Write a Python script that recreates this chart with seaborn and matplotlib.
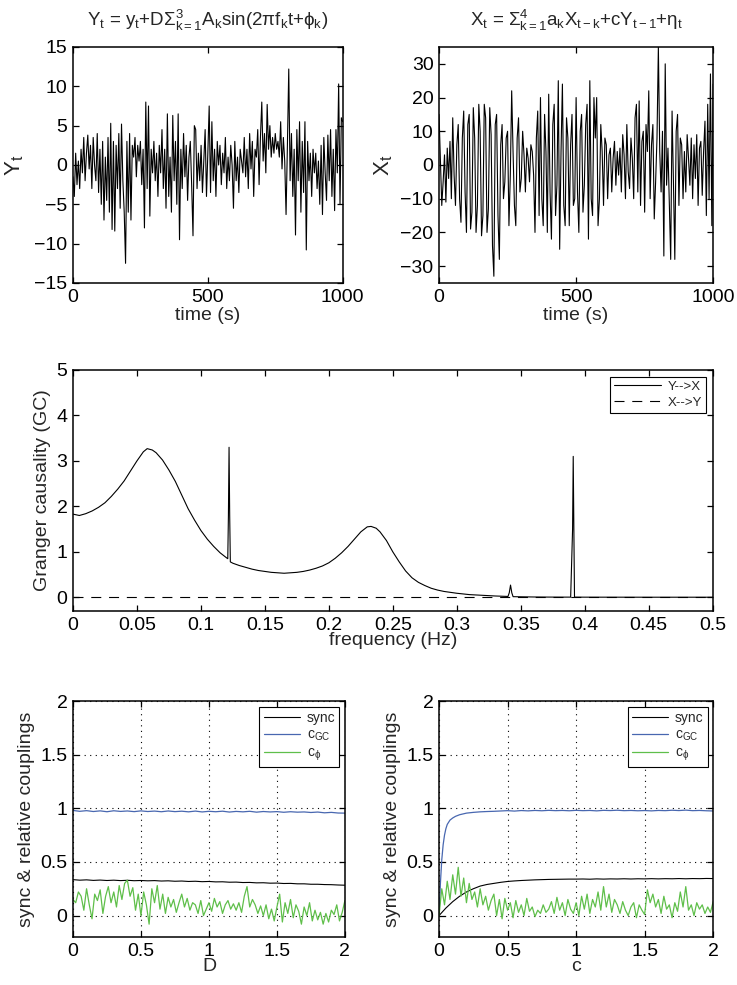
import numpy as np
import pandas as pd
import matplotlib
matplotlib.use("Agg")
import matplotlib.pyplot as plt
import seaborn as sns

# ====================================
# DADOS
# ====================================

# tempo (s), amostrado a cada 5 s
tempo = np.arange(0, 1001, 5)

serie_y = [
    -1.5, -4.0, 1.5, -2.5, 0.5, -3.0, 2.0, -1.0, 3.5, -2.0, 1.5, 3.8, -0.5, 2.5, -3.0, 3.5, 0.0, -2.0, 4.0, -3.5,
    2.0, -5.0, 3.0, -7.0, 1.0, -4.5, 3.5, -6.0, 5.3, -8.2, 3.0, -8.4, 2.5, -3.0, 4.0, -5.5, 5.2, -2.0, -6.0, -12.5,
    3.0, -6.0, 4.0, -7.0, 2.5, 1.0, 3.5, -1.5, 2.5, 0.5, 3.0, -2.5, 2.0, -8.0, 8.0, -3.0, 7.5, -6.5, 2.0, -1.0,
    3.0, -2.0, 1.5, -4.0, 2.5, -1.0, 4.5, -3.0, 2.0, -5.5, 6.5, -4.0, 1.0, -6.0, 6.3, -2.0, 3.0, -5.0, 6.5, -9.5,
    2.0, -3.0, 4.0, -1.5, 2.5, -4.5, 1.0, 3.0, -2.5, -9.0, 5.0, 4.5, -3.0, 1.5, -2.0, 2.5, -3.5, 0.5, 4.5, -4.0,
    1.5, 7.5, -3.5, 5.5, -2.0, 2.0, -4.0, 3.0, 0.0, 2.5, -2.5, 1.5, -1.0, 3.5, -3.0, 1.0, -2.0, 2.5, 0.0, -5.5,
    3.0, -2.0, 1.0, -3.5, 2.0, 0.5, -1.0, 3.5, -1.5, 2.0, -3.0, 4.0, -0.5, 3.0, -4.0, 2.0, 1.0, 4.5, -2.5, 3.5,
    8.0, 0.5, 4.0, -1.0, 7.7, 2.0, 5.0, 1.0, 3.5, 1.5, 4.0, 2.0, 3.0, 1.0, 5.5, -0.5, 3.5, 0.5, -6.3, 2.5,
    12.2, -2.0, 4.0, -4.0, 2.0, -8.9, 4.5, -2.0, 5.5, -6.0, 3.0, -3.5, 5.5, -10.8, 3.0, -2.0, 1.5, -4.0, 2.0, -1.0,
    1.5, -3.0, 0.5, -5.0, 2.5, -6.3, 3.5, -1.0, -4.5, 3.8, -2.0, 4.5, -4.0, 2.0, -5.8, 4.5, -1.0, 10.3, -5.0, 6.0,
    5.5,
]

serie_x = [
    15, 2, -12, -5, 3, -11, 5, -4, 7, -10, 14, -3, -12, 6, 12, -10, -17, 8, 16, -8,
    -20, 12, 15, -19, -14, 17, 8, -20, -12, 18, 10, -21, -15, 18, 14, -20, -13, 17, 9, -24,
    -33, 12, 15, -15, -28, 6, 12, -10, -5, 8, 10, -18, -3, 22, 4, -12, -18, 8, 14, -8,
    -4, 10, 3, -8, 5, 2, -5, 6, 4, -3, -20, 8, 16, -15, 20, -10, -18, 15, 4, -20,
    21, -8, -22, 12, 18, -15, -6, 25, -25, 4, 24, -12, -18, 14, 8, -18, 6, 15, -12, -10,
    20, -8, -20, 10, 15, -14, -6, 12, 18, -22, 25, -10, -15, 20, 8, 20, -18, -10, 12, 4,
    -12, 8, 6, -10, 3, 5, -8, 2, 7, -6, 4, -3, 5, -8, 9, 3, -10, 12, -2, -7,
    8, 2, -10, 14, 18, -8, 19, -12, 7, 10, -14, 12, 4, 22, -10, 6, 12, -16, -5, 8,
    35, 4, -8, 10, -27, 30, -6, 5, -12, -28, 16, -5, -28, 10, 15, -12, 8, 6, -10, 4,
    -8, 9, 2, -6, 8, -10, 6, -4, 9, -12, 5, 7, -9, 4, 13, -15, 18, -10, 27, -18, 24,
]

freq = [
    0, 0.005, 0.01, 0.015, 0.02, 0.025, 0.03, 0.035, 0.04, 0.045, 0.05, 0.055, 0.058,
    0.062, 0.065, 0.07, 0.075, 0.08, 0.085, 0.09, 0.095, 0.1, 0.105, 0.11, 0.115, 0.12,
    0.121, 0.1215, 0.122, 0.1225, 0.123, 0.125, 0.13, 0.135, 0.14, 0.145, 0.15, 0.155,
    0.16, 0.165, 0.17, 0.175, 0.18, 0.185, 0.19, 0.195, 0.2, 0.205, 0.21, 0.215, 0.22,
    0.225, 0.23, 0.233, 0.237, 0.24, 0.245, 0.25, 0.255, 0.26, 0.265, 0.27, 0.275, 0.28,
    0.285, 0.29, 0.3, 0.31, 0.32, 0.33, 0.34, 0.341, 0.342, 0.343, 0.344, 0.35, 0.36,
    0.37, 0.38, 0.389, 0.3905, 0.391, 0.3915, 0.392, 0.4, 0.45, 0.5,
]
gc_yx = [
    1.83, 1.80, 1.84, 1.90, 1.98, 2.08, 2.22, 2.38, 2.56, 2.78, 3.00, 3.20, 3.27,
    3.24, 3.18, 3.02, 2.80, 2.55, 2.25, 1.95, 1.70, 1.47, 1.28, 1.12, 0.98, 0.87,
    0.85, 1.80, 3.30, 1.80, 0.78, 0.75, 0.70, 0.66, 0.62, 0.59, 0.57, 0.55,
    0.54, 0.53, 0.54, 0.55, 0.57, 0.60, 0.64, 0.69, 0.76, 0.86, 0.98, 1.12, 1.28,
    1.44, 1.55, 1.56, 1.52, 1.44, 1.25, 1.00, 0.78, 0.58, 0.43, 0.33, 0.26, 0.20,
    0.16, 0.13, 0.09, 0.06, 0.045, 0.03, 0.02, 0.10, 0.27, 0.10, 0.015, 0.012, 0.008,
    0.006, 0.005, 0.005, 1.50, 3.10, 1.50, 0.005, 0.004, 0.003, 0.003,
]
freq_xy = [0, 0.5]
gc_xy = [0, 0]

# painel D
d_vals = np.round(np.arange(0, 2.001, 0.05), 2)
sync_d = [
    0.335, 0.33, 0.333, 0.328, 0.331, 0.327, 0.33, 0.326, 0.329, 0.325, 0.327, 0.324, 0.326, 0.322,
    0.324, 0.32, 0.322, 0.318, 0.32, 0.316, 0.318, 0.314, 0.315, 0.311, 0.312, 0.308, 0.309, 0.305,
    0.306, 0.302, 0.303, 0.299, 0.3, 0.296, 0.296, 0.292, 0.292, 0.289, 0.288, 0.285, 0.283,
]
cgc_d = [
    0.98, 0.972, 0.978, 0.97, 0.976, 0.968, 0.977, 0.971, 0.975, 0.969, 0.976, 0.97, 0.974, 0.968,
    0.975, 0.969, 0.973, 0.967, 0.974, 0.966, 0.972, 0.968, 0.973, 0.965, 0.971, 0.967, 0.972, 0.964,
    0.97, 0.966, 0.969, 0.963, 0.968, 0.964, 0.966, 0.961, 0.965, 0.958, 0.962, 0.956, 0.955,
]
d_fino = np.round(np.arange(0, 2.001, 0.02), 2)
cphi_d = [
    0.15, 0.12, 0.22, 0.18, 0.05, 0.25, 0.1, -0.03, 0.2, 0.14,
    0.24, 0.02, 0.18, 0.27, 0.12, 0.22, 0.08, 0.28, 0.15, 0.3,
    0.33, 0.18, 0.26, 0.05, 0.2, 0.0, 0.22, 0.1, -0.08, 0.25,
    0.12, 0.28, 0.06, 0.2, 0.02, 0.17, 0.08, 0.15, 0.03, 0.12,
    0.2, 0.08, 0.16, 0.05, 0.12, 0.1, 0.02, 0.14, 0.0, 0.06,
    0.12, 0.04, 0.16, 0.08, 0.13, 0.02, 0.1, 0.14, 0.06, 0.11,
    0.05, 0.12, 0.03, 0.18, 0.27, 0.08, 0.15, 0.1, 0.02, 0.09,
    0.0, 0.1, -0.03, 0.06, -0.05, 0.08, 0.2, -0.06, 0.12, 0.02,
    0.15, -0.02, 0.1, 0.04, -0.08, 0.08, 0.0, 0.12, -0.05, 0.05,
    -0.04, 0.03, -0.08, 0.02, -0.06, 0.05, 0.01, 0.1, -0.05, 0.03,
    0.14,
]

# painel c
c_vals = np.round(np.arange(0, 2.001, 0.05), 2)
sync_c = [
    0.0, 0.07, 0.13, 0.18, 0.22, 0.25, 0.275, 0.29, 0.30, 0.31, 0.318, 0.323, 0.327, 0.33,
    0.333, 0.335, 0.337, 0.338, 0.339, 0.34, 0.34, 0.341, 0.339, 0.342, 0.34, 0.342, 0.341, 0.343,
    0.341, 0.343, 0.342, 0.344, 0.342, 0.344, 0.343, 0.345, 0.343, 0.345, 0.344, 0.346, 0.345,
]
c_gc_x = [
    0, 0.01, 0.02, 0.03, 0.04, 0.05, 0.06, 0.08, 0.1, 0.12, 0.15, 0.2, 0.25, 0.3,
    0.35, 0.4, 0.45, 0.5, 0.55, 0.6, 0.65, 0.7, 0.75, 0.8, 0.85, 0.9, 0.95, 1.0,
    1.05, 1.1, 1.15, 1.2, 1.25, 1.3, 1.35, 1.4, 1.45, 1.5, 1.55, 1.6, 1.65, 1.7,
    1.75, 1.8, 1.85, 1.9, 1.95, 2.0,
]
cgc_c = [
    0.0, 0.3, 0.52, 0.66, 0.75, 0.81, 0.85, 0.89, 0.91, 0.925, 0.94, 0.955, 0.962, 0.967,
    0.97, 0.972, 0.975, 0.978, 0.974, 0.979, 0.976, 0.98, 0.977, 0.981, 0.978, 0.98, 0.977, 0.981,
    0.978, 0.98, 0.976, 0.981, 0.979, 0.982, 0.978, 0.98, 0.977, 0.979, 0.976, 0.98, 0.978, 0.982,
    0.979, 0.983, 0.978, 0.98, 0.977, 0.975,
]
c_fino = np.round(np.arange(0, 2.001, 0.02), 2)
cphi_c = [
    0.0, 0.25, 0.1, 0.32, 0.15, 0.38, 0.2, 0.45, 0.18, 0.35,
    0.12, 0.3, 0.15, 0.22, 0.08, 0.25, 0.1, 0.18, 0.05, 0.14,
    0.2, 0.0, 0.15, -0.03, 0.16, 0.05, 0.12, -0.02, 0.14, 0.03,
    0.1, 0.0, 0.16, 0.04, 0.08, -0.01, 0.05, 0.02, 0.1, 0.03,
    0.06, 0.13, 0.02, 0.17, 0.05, 0.12, 0.0, 0.15, 0.06, 0.02,
    0.12, 0.0, 0.18, 0.06, 0.2, 0.02, 0.15, 0.08, 0.22, 0.05,
    0.27, 0.08, 0.2, 0.03, 0.15, 0.1, 0.02, 0.13, 0.05, 0.0,
    0.08, 0.12, -0.02, 0.1, 0.05, 0.01, 0.24, 0.12, 0.2, 0.08,
    0.15, 0.02, 0.18, 0.06, 0.1, -0.02, 0.12, 0.04, 0.22, 0.08,
    0.27, 0.05, 0.1, 0.0, 0.12, 0.06, 0.1, 0.02, 0.08, 0.03,
    0.13,
]

freq_ticks = [0, 0.05, 0.1, 0.15, 0.2, 0.25, 0.3, 0.35, 0.4, 0.45, 0.5]
freq_labels = ["0", "0.05", "0.1", "0.15", "0.2", "0.25", "0.3", "0.35", "0.4", "0.45", "0.5"]

# ====================================
# ESTILO
# ====================================

sns.set_style("ticks")
plt.rcParams["font.family"] = ["Liberation Sans", "DejaVu Sans"]
plt.rcParams["mathtext.fontset"] = "custom"
plt.rcParams["mathtext.rm"] = "Liberation Sans"
plt.rcParams["mathtext.it"] = "Liberation Sans"
plt.rcParams["mathtext.bf"] = "Liberation Sans:bold"
plt.rcParams["axes.linewidth"] = 1.1
plt.rcParams["axes.edgecolor"] = "black"

FS = 14
VERDE = "#5fbf4a"
AZUL = "#4867b0"


def estilo_matlab(ax):
    ax.tick_params(direction="in", top=True, right=True, labelsize=FS,
                   length=4.5, width=0.9, colors="black", pad=4)
    for s in ax.spines.values():
        s.set_visible(True)
        s.set_color("black")


fig = plt.figure(figsize=(7.37, 9.85), dpi=100)

# ====================================
# SERIE Y
# ====================================

ax1 = fig.add_axes([0.099, 0.7127, 0.366, 0.2396])
sns.lineplot(x=tempo, y=serie_y, ax=ax1, color="black", linewidth=0.8)
ax1.set_xlim(0, 1000)
ax1.set_ylim(-15, 15)
ax1.set_xticks([0, 500, 1000])
ax1.set_yticks([-15, -10, -5, 0, 5, 10, 15])
ax1.set_xlabel("time (s)", fontsize=FS, labelpad=1)
ax1.set_ylabel(r"Y$_\mathrm{t}$", fontsize=FS + 2, labelpad=6)
ax1.set_title(r"Y$_\mathrm{t}$ = y$_\mathrm{t}$+D$\Sigma^3_{\mathrm{k=1}}$A$_\mathrm{k}$sin(2$\pi$f$_\mathrm{k}$t+$\phi_\mathrm{k}$)",
              fontsize=13.5, pad=15)
estilo_matlab(ax1)

# ====================================
# SERIE X
# ====================================

ax2 = fig.add_axes([0.5957, 0.7127, 0.372, 0.2396])
sns.lineplot(x=tempo, y=serie_x, ax=ax2, color="black", linewidth=0.8)
ax2.set_xlim(0, 1000)
ax2.set_ylim(-35, 35)
ax2.set_xticks([0, 500, 1000])
ax2.set_yticks([-30, -20, -10, 0, 10, 20, 30])
ax2.set_xlabel("time (s)", fontsize=FS, labelpad=1)
ax2.set_ylabel(r"X$_\mathrm{t}$", fontsize=FS + 2, labelpad=4)
ax2.set_title(r"X$_\mathrm{t}$ = $\Sigma^4_{\mathrm{k=1}}$a$_\mathrm{k}$X$_\mathrm{t-k}$+cY$_\mathrm{t-1}$+$\eta_\mathrm{t}$",
              fontsize=13.5, pad=15)
estilo_matlab(ax2)

# ====================================
# GRANGER
# ====================================

ax3 = fig.add_axes([0.099, 0.3797, 0.868, 0.2447])
sns.lineplot(x=freq, y=gc_yx, ax=ax3, color="black", linewidth=0.8, label="Y-->X")
sns.lineplot(x=freq_xy, y=gc_xy, ax=ax3, color="black", linewidth=0.8,
             linestyle=(0, (9, 7)), label="X-->Y")
ax3.set_xlim(0, 0.5)
ax3.set_ylim(-0.3, 5)
ax3.set_xticks(freq_ticks)
ax3.set_xticklabels(freq_labels)
ax3.set_yticks([0, 1, 2, 3, 4, 5])
ax3.set_xlabel("frequency (Hz)", fontsize=FS, labelpad=-1)
ax3.set_ylabel("Granger causality (GC)", fontsize=FS)
estilo_matlab(ax3)
leg = ax3.legend(loc="upper right", fontsize=9.5, fancybox=False, edgecolor="black",
                 framealpha=1, handlelength=3.6, borderaxespad=0.5,
                 handletextpad=0.5, borderpad=0.3, labelspacing=0.3)
leg.get_frame().set_linewidth(0.8)

# ====================================
# ACOPLAMENTOS
# ====================================

grade = dict(color="black", linestyle=(0, (1, 4)), linewidth=0.8)


def painel(ax, xs, sync, xgc, cgc, xf, cphi, xlabel):
    sns.lineplot(x=xs, y=sync, ax=ax, color="black", linewidth=0.8, label="sync")
    sns.lineplot(x=xgc, y=cgc, ax=ax, color=AZUL, linewidth=0.9, label=r"c$_\mathrm{GC}$")
    sns.lineplot(x=xf, y=cphi, ax=ax, color=VERDE, linewidth=0.9, label=r"c$_\phi$")
    ax.set_xlim(0, 2)
    ax.set_ylim(-0.2, 2)
    ax.set_xticks([0, 0.5, 1, 1.5, 2])
    ax.set_xticklabels(["0", "0.5", "1", "1.5", "2"])
    ax.set_yticks([0, 0.5, 1, 1.5, 2])
    ax.set_yticklabels(["0", "0.5", "1", "1.5", "2"])
    ax.grid(True, **grade)
    ax.set_xlabel(xlabel, fontsize=FS, labelpad=-1)
    ax.set_ylabel("sync & relative couplings", fontsize=FS)
    estilo_matlab(ax)
    lg = ax.legend(loc="upper right", fontsize=10, fancybox=False, edgecolor="black",
                   framealpha=1, handlelength=2.6, borderaxespad=0.4,
                   handletextpad=0.5, borderpad=0.3, labelspacing=0.2)
    lg.get_frame().set_linewidth(0.8)


ax4 = fig.add_axes([0.099, 0.0487, 0.369, 0.2396])
painel(ax4, d_vals, sync_d, d_vals, cgc_d, d_fino, cphi_d, "D")

ax5 = fig.add_axes([0.5957, 0.0487, 0.372, 0.2396])
painel(ax5, c_vals, sync_c, c_gc_x, cgc_c, c_fino, cphi_c, "c")

plt.savefig("out.png", dpi=100)
plt.close()
